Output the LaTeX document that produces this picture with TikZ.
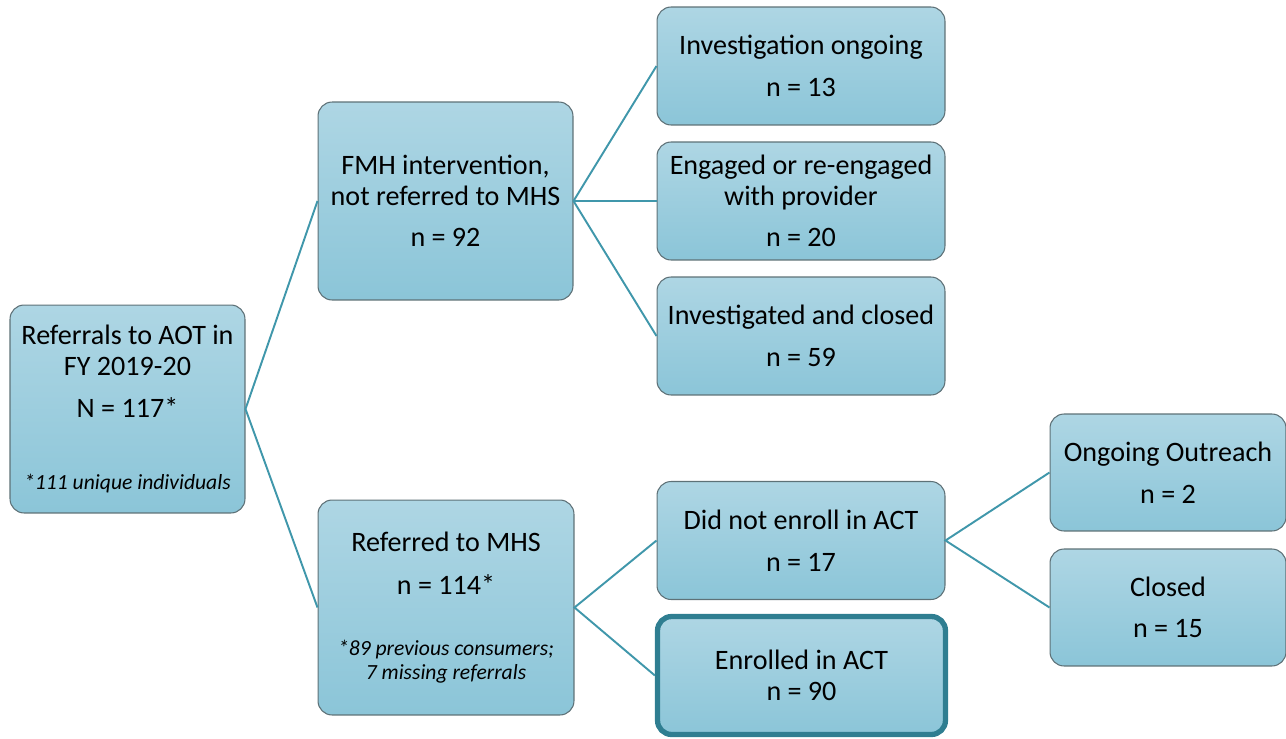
\documentclass[tikz,border=0pt]{standalone}
\usepackage{fontspec}
\setmainfont{Carlito}
\usepackage{tikz}
\usetikzlibrary{positioning}
\definecolor{boxtop}{HTML}{AED6E4}
\definecolor{boxbot}{HTML}{8BC5D8}
\definecolor{boxline}{HTML}{5E7177}
\definecolor{linkteal}{HTML}{4097AB}
\definecolor{keyteal}{HTML}{2F7E91}
\newcommand{\boxfont}{\fontsize{16}{17.6}\selectfont}
\newcommand{\notefont}{\fontsize{12.3}{13.6}\selectfont\itshape}
\tikzset{
  box/.style={draw=boxline, rounded corners=8pt, line width=.6pt, top color=boxtop, bottom color=boxbot, align=center, inner sep=2pt, font=\boxfont},
  leaf/.style={box, minimum width=5.76cm, minimum height=2.36cm},
  tip/.style={box, minimum width=4.72cm, minimum height=2.34cm},
  keybox/.style={leaf, draw=keyteal, line width=3pt},
  link/.style={draw=linkteal, line width=1.1pt},
}

\begin{document}
\begin{tikzpicture}[x=0.02cm, y=-0.02cm]
    \useasboundingbox (0,0) rectangle (1286,738);

    % first level
    \node[box, minimum width=4.7cm, minimum height=4.16cm] (aot) at (127.5,409) {Referrals to AOT in\\FY 2019-20\\[6.5pt]N = 117*\\[23pt]{\notefont *111 unique individuals}};

    % second level
    \node[box, minimum width=5.1cm, minimum height=3.96cm] (fmh) at (445.5,201) {FMH intervention,\\not referred to MHS\\[6pt]n = 92};
    \node[box, minimum width=5.12cm, minimum height=4.3cm] (mhs) at (446,607.5) {Referred to MHS\\[7pt]n = 114*\\[17.5pt]{\notefont *89 previous consumers;}\\[-4pt]{\notefont 7 missing referrals}};

    % outcomes of FMH intervention
    \node[leaf] (ongo) at (801,66) {Investigation ongoing\\[6pt]n = 13};
    \node[leaf] (prov) at (801,201) {Engaged or re-engaged\\with provider\\[6pt]n = 20};
    \node[leaf] (invc) at (801,336) {Investigated and closed\\[6pt]n = 59};

    % outcomes of MHS referral
    \node[leaf] (noact) at (801,540.5) {Did not enroll in ACT\\[6pt]n = 17};
    \node[keybox] (act) at (801.5,675.5) {Enrolled in ACT\\n = 90};

    % not enrolled
    \node[tip] (outr) at (1168,472.5) {Ongoing Outreach\\[6pt]n = 2};
    \node[tip] (clsd) at (1168,607.5) {Closed\\[6pt]n = 15};

    \draw[link] (fmh.west) -- (aot.east) -- (mhs.west);
    \draw[link] (ongo.west) -- (fmh.east) -- (invc.west);
    \draw[link] (fmh.east) -- (prov.west);
    \draw[link] (noact.west) -- (mhs.east) -- (act.west);
    \draw[link] (outr.west) -- (noact.east) -- (clsd.west);
  \end{tikzpicture}
\end{document}
